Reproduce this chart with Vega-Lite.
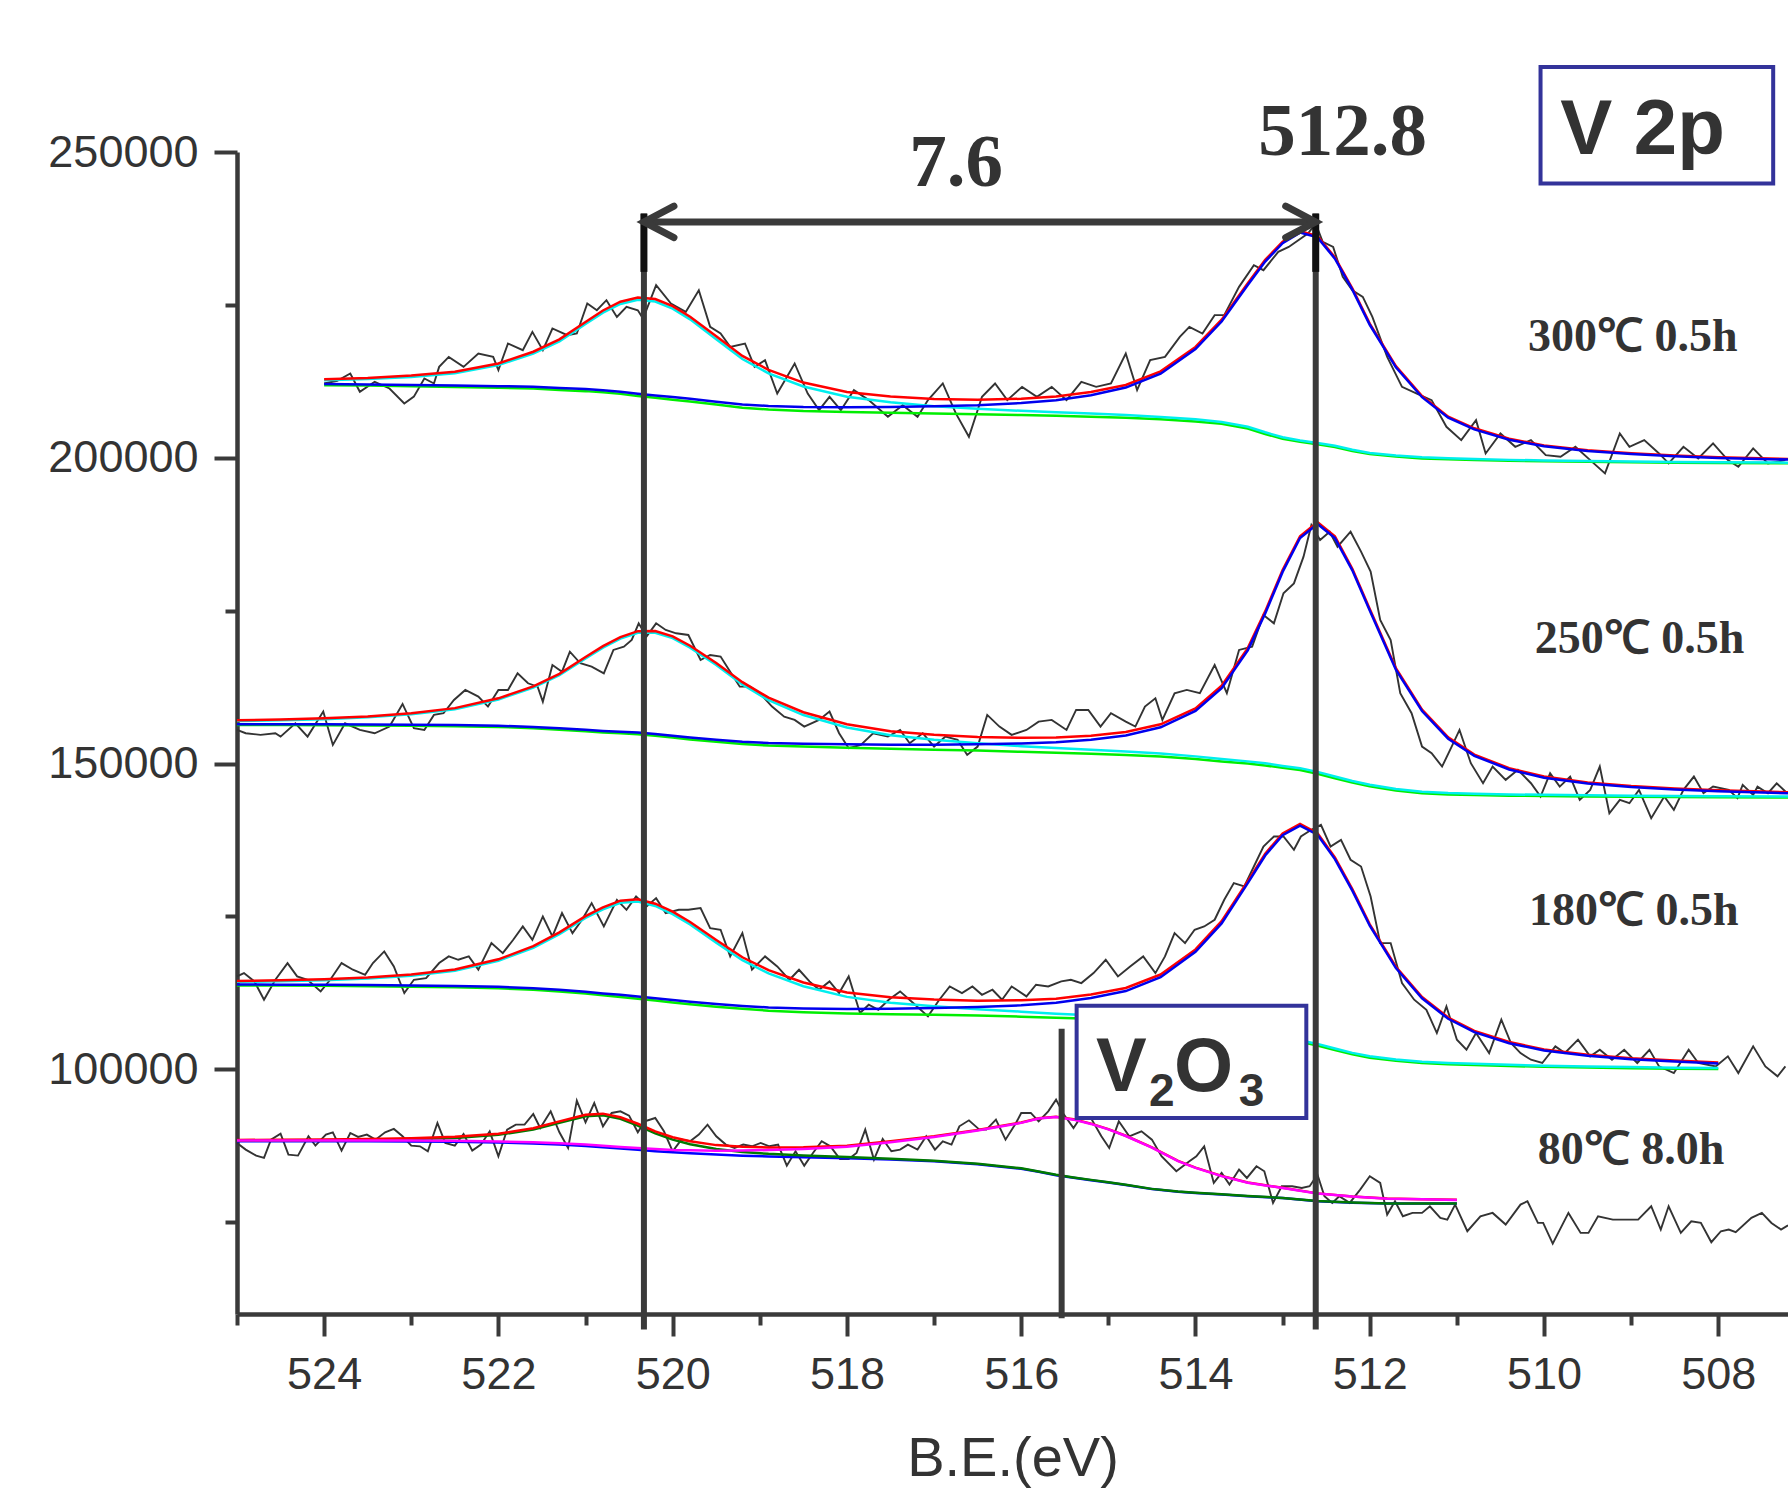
{
"$schema": "https://vega.github.io/schema/vega-lite/v6.json",
"width": 1551, "height": 1162,
"autosize": {"type": "none"},
"padding": {"left": 237, "top": 152, "right": 0, "bottom": 180},
"background": "white",
"config": {"view": {"stroke": null}, "axis": {"domainWidth": 4.5, "tickWidth": 4, "domainColor": "#3a3a3a", "tickColor": "#3a3a3a"}},
"datasets": {
"raw": [
{"s":"300","x":524.0,"y":212150},{"s":"300","x":523.85,"y":212600},{"s":"300","x":523.7,"y":213780},{"s":"300","x":523.59,"y":210790},{"s":"300","x":523.42,"y":212420},{"s":"300","x":523.25,"y":211330},{"s":"300","x":523.08,"y":208880},{"s":"300","x":522.97,"y":210000},{"s":"300","x":522.85,"y":212970},{"s":"300","x":522.74,"y":212150},{"s":"300","x":522.68,"y":214870},{"s":"300","x":522.57,"y":216500},{"s":"300","x":522.4,"y":214870},{"s":"300","x":522.23,"y":217050},{"s":"300","x":522.06,"y":216500},{"s":"300","x":522.0,"y":214330},{"s":"300","x":521.89,"y":218680},{"s":"300","x":521.72,"y":217600},{"s":"300","x":521.61,"y":220590},{"s":"300","x":521.49,"y":217600},{"s":"300","x":521.38,"y":221140},{"s":"300","x":521.21,"y":220050},{"s":"300","x":521.1,"y":220320},{"s":"300","x":520.98,"y":225220},{"s":"300","x":520.87,"y":224130},{"s":"300","x":520.76,"y":225770},{"s":"300","x":520.64,"y":223040},{"s":"300","x":520.53,"y":224680},{"s":"300","x":520.4,"y":224130},{"s":"300","x":520.34,"y":222770},{"s":"300","x":520.19,"y":228220},{"s":"300","x":520.02,"y":225220},{"s":"300","x":519.85,"y":223860},{"s":"300","x":519.7,"y":227400},{"s":"300","x":519.57,"y":221410},{"s":"300","x":519.45,"y":220320},{"s":"300","x":519.34,"y":218140},{"s":"300","x":519.17,"y":218690},{"s":"300","x":519.06,"y":214870},{"s":"300","x":518.94,"y":215960},{"s":"300","x":518.8,"y":210510},{"s":"300","x":518.6,"y":215420},{"s":"300","x":518.45,"y":210510},{"s":"300","x":518.32,"y":207790},{"s":"300","x":518.2,"y":209970},{"s":"300","x":518.07,"y":207790},{"s":"300","x":517.92,"y":211060},{"s":"300","x":517.75,"y":209430},{"s":"300","x":517.53,"y":206700},{"s":"300","x":517.36,"y":208610},{"s":"300","x":517.19,"y":206700},{"s":"300","x":517.07,"y":209430},{"s":"300","x":516.9,"y":212150},{"s":"300","x":516.75,"y":207250},{"s":"300","x":516.6,"y":203430},{"s":"300","x":516.45,"y":209970},{"s":"300","x":516.3,"y":212150},{"s":"300","x":516.16,"y":209430},{"s":"300","x":515.99,"y":211600},{"s":"300","x":515.82,"y":209970},{"s":"300","x":515.65,"y":211600},{"s":"300","x":515.48,"y":209430},{"s":"300","x":515.31,"y":212420},{"s":"300","x":515.14,"y":211600},{"s":"300","x":514.97,"y":212150},{"s":"300","x":514.8,"y":217050},{"s":"300","x":514.67,"y":211060},{"s":"300","x":514.52,"y":215960},{"s":"300","x":514.35,"y":216500},{"s":"300","x":514.18,"y":219770},{"s":"300","x":514.07,"y":221410},{"s":"300","x":513.92,"y":220320},{"s":"300","x":513.78,"y":223320},{"s":"300","x":513.67,"y":223320},{"s":"300","x":513.5,"y":227950},{"s":"300","x":513.33,"y":231480},{"s":"300","x":513.22,"y":230670},{"s":"300","x":513.05,"y":233670},{"s":"300","x":512.93,"y":234480},{"s":"300","x":512.82,"y":235570},{"s":"300","x":512.71,"y":236660},{"s":"300","x":512.62,"y":238300},{"s":"300","x":512.54,"y":235300},{"s":"300","x":512.42,"y":234480},{"s":"300","x":512.31,"y":229580},{"s":"300","x":512.2,"y":227400},{"s":"300","x":512.08,"y":226310},{"s":"300","x":511.97,"y":223040},{"s":"300","x":511.8,"y":216500},{"s":"300","x":511.63,"y":211600},{"s":"300","x":511.46,"y":210510},{"s":"300","x":511.29,"y":209430},{"s":"300","x":511.12,"y":205070},{"s":"300","x":510.95,"y":202890},{"s":"300","x":510.78,"y":206160},{"s":"300","x":510.67,"y":200710},{"s":"300","x":510.5,"y":203980},{"s":"300","x":510.33,"y":201800},{"s":"300","x":510.15,"y":202890},{"s":"300","x":509.98,"y":200440},{"s":"300","x":509.81,"y":200170},{"s":"300","x":509.64,"y":201800},{"s":"300","x":509.47,"y":199620},{"s":"300","x":509.3,"y":197440},{"s":"300","x":509.13,"y":203980},{"s":"300","x":509.02,"y":201800},{"s":"300","x":508.85,"y":202890},{"s":"300","x":508.68,"y":200710},{"s":"300","x":508.57,"y":199080},{"s":"300","x":508.4,"y":201800},{"s":"300","x":508.23,"y":199890},{"s":"300","x":508.06,"y":202350},{"s":"300","x":507.89,"y":199620},{"s":"300","x":507.77,"y":198530},{"s":"300","x":507.6,"y":201530},{"s":"300","x":507.43,"y":199080},{"s":"300","x":507.23,"y":199620},
{"s":"250","x":525.0,"y":155500},{"s":"250","x":524.9,"y":154960},{"s":"250","x":524.73,"y":154690},{"s":"250","x":524.56,"y":154960},{"s":"250","x":524.5,"y":154410},{"s":"250","x":524.33,"y":156590},{"s":"250","x":524.19,"y":154410},{"s":"250","x":524.01,"y":158500},{"s":"250","x":523.9,"y":153050},{"s":"250","x":523.76,"y":156590},{"s":"250","x":523.59,"y":155500},{"s":"250","x":523.42,"y":154960},{"s":"250","x":523.25,"y":156050},{"s":"250","x":523.1,"y":159750},{"s":"250","x":522.97,"y":155780},{"s":"250","x":522.85,"y":155500},{"s":"250","x":522.74,"y":157960},{"s":"250","x":522.63,"y":158230},{"s":"250","x":522.51,"y":160410},{"s":"250","x":522.38,"y":162040},{"s":"250","x":522.23,"y":160950},{"s":"250","x":522.12,"y":159320},{"s":"250","x":522.0,"y":162040},{"s":"250","x":521.89,"y":162040},{"s":"250","x":521.78,"y":164760},{"s":"250","x":521.66,"y":163130},{"s":"250","x":521.55,"y":162580},{"s":"250","x":521.49,"y":160130},{"s":"250","x":521.38,"y":166120},{"s":"250","x":521.27,"y":165030},{"s":"250","x":521.18,"y":168300},{"s":"250","x":521.06,"y":166400},{"s":"250","x":520.93,"y":165850},{"s":"250","x":520.79,"y":164760},{"s":"250","x":520.68,"y":168580},{"s":"250","x":520.56,"y":169120},{"s":"250","x":520.47,"y":170210},{"s":"250","x":520.39,"y":172930},{"s":"250","x":520.3,"y":170760},{"s":"250","x":520.19,"y":172930},{"s":"250","x":520.08,"y":171840},{"s":"250","x":519.96,"y":171300},{"s":"250","x":519.82,"y":171030},{"s":"250","x":519.68,"y":166940},{"s":"250","x":519.57,"y":167760},{"s":"250","x":519.45,"y":167490},{"s":"250","x":519.34,"y":165030},{"s":"250","x":519.23,"y":162580},{"s":"250","x":519.11,"y":162580},{"s":"250","x":519.0,"y":161500},{"s":"250","x":518.86,"y":159320},{"s":"250","x":518.72,"y":157680},{"s":"250","x":518.6,"y":157140},{"s":"250","x":518.49,"y":156050},{"s":"250","x":518.32,"y":157140},{"s":"250","x":518.2,"y":158500},{"s":"250","x":518.09,"y":154960},{"s":"250","x":517.98,"y":152510},{"s":"250","x":517.84,"y":153050},{"s":"250","x":517.7,"y":154960},{"s":"250","x":517.53,"y":154410},{"s":"250","x":517.39,"y":155500},{"s":"250","x":517.28,"y":153330},{"s":"250","x":517.13,"y":154960},{"s":"250","x":517.0,"y":152780},{"s":"250","x":516.87,"y":154410},{"s":"250","x":516.73,"y":153870},{"s":"250","x":516.62,"y":151420},{"s":"250","x":516.5,"y":152780},{"s":"250","x":516.39,"y":157960},{"s":"250","x":516.25,"y":156050},{"s":"250","x":516.11,"y":154690},{"s":"250","x":515.94,"y":155500},{"s":"250","x":515.8,"y":156860},{"s":"250","x":515.65,"y":157140},{"s":"250","x":515.48,"y":155500},{"s":"250","x":515.37,"y":158770},{"s":"250","x":515.23,"y":158770},{"s":"250","x":515.09,"y":156050},{"s":"250","x":514.97,"y":158230},{"s":"250","x":514.8,"y":156860},{"s":"250","x":514.69,"y":156050},{"s":"250","x":514.58,"y":159320},{"s":"250","x":514.46,"y":160680},{"s":"250","x":514.38,"y":157140},{"s":"250","x":514.24,"y":161500},{"s":"250","x":514.1,"y":162040},{"s":"250","x":513.95,"y":161500},{"s":"250","x":513.78,"y":166120},{"s":"250","x":513.64,"y":161500},{"s":"250","x":513.5,"y":168580},{"s":"250","x":513.35,"y":169120},{"s":"250","x":513.22,"y":174300},{"s":"250","x":513.1,"y":172930},{"s":"250","x":512.99,"y":177840},{"s":"250","x":512.87,"y":179470},{"s":"250","x":512.76,"y":183830},{"s":"250","x":512.67,"y":189000},{"s":"250","x":512.57,"y":186550},{"s":"250","x":512.46,"y":187910},{"s":"250","x":512.37,"y":185460},{"s":"250","x":512.22,"y":187910},{"s":"250","x":512.1,"y":184650},{"s":"250","x":511.99,"y":181380},{"s":"250","x":511.88,"y":173480},{"s":"250","x":511.76,"y":170210},{"s":"250","x":511.65,"y":161500},{"s":"250","x":511.52,"y":158230},{"s":"250","x":511.4,"y":152780},{"s":"250","x":511.29,"y":151690},{"s":"250","x":511.17,"y":149510},{"s":"250","x":511.06,"y":152780},{"s":"250","x":510.97,"y":155500},{"s":"250","x":510.84,"y":150060},{"s":"250","x":510.7,"y":146790},{"s":"250","x":510.59,"y":149510},{"s":"250","x":510.44,"y":147340},{"s":"250","x":510.3,"y":148970},{"s":"250","x":510.15,"y":146790},{"s":"250","x":510.04,"y":144610},{"s":"250","x":509.93,"y":148420},{"s":"250","x":509.82,"y":146240},{"s":"250","x":509.7,"y":147880},{"s":"250","x":509.59,"y":144070},{"s":"250","x":509.47,"y":145700},{"s":"250","x":509.36,"y":149510},{"s":"250","x":509.25,"y":141880},{"s":"250","x":509.13,"y":144070},{"s":"250","x":509.02,"y":143520},{"s":"250","x":508.91,"y":145700},{"s":"250","x":508.77,"y":141070},{"s":"250","x":508.62,"y":144610},{"s":"250","x":508.51,"y":142430},{"s":"250","x":508.4,"y":145700},{"s":"250","x":508.28,"y":147880},{"s":"250","x":508.17,"y":145150},{"s":"250","x":508.06,"y":146240},{"s":"250","x":507.88,"y":145700},{"s":"250","x":507.78,"y":144340},{"s":"250","x":507.72,"y":146510},{"s":"250","x":507.6,"y":144890},{"s":"250","x":507.55,"y":146240},{"s":"250","x":507.43,"y":145150},{"s":"250","x":507.33,"y":146780},{"s":"250","x":507.23,"y":145430},
{"s":"180","x":525.0,"y":115200},{"s":"180","x":524.92,"y":115740},{"s":"180","x":524.8,"y":114380},{"s":"180","x":524.69,"y":111390},{"s":"180","x":524.56,"y":114650},{"s":"180","x":524.42,"y":117380},{"s":"180","x":524.31,"y":115200},{"s":"180","x":524.19,"y":114650},{"s":"180","x":524.04,"y":112750},{"s":"180","x":523.93,"y":114650},{"s":"180","x":523.8,"y":117380},{"s":"180","x":523.67,"y":116290},{"s":"180","x":523.53,"y":115470},{"s":"180","x":523.44,"y":117380},{"s":"180","x":523.31,"y":119280},{"s":"180","x":523.2,"y":116830},{"s":"180","x":523.08,"y":112480},{"s":"180","x":522.97,"y":114650},{"s":"180","x":522.83,"y":114920},{"s":"180","x":522.68,"y":117380},{"s":"180","x":522.57,"y":118470},{"s":"180","x":522.46,"y":117920},{"s":"180","x":522.34,"y":118470},{"s":"180","x":522.23,"y":116290},{"s":"180","x":522.08,"y":120650},{"s":"180","x":521.95,"y":119010},{"s":"180","x":521.83,"y":121190},{"s":"180","x":521.72,"y":123370},{"s":"180","x":521.61,"y":121190},{"s":"180","x":521.49,"y":125000},{"s":"180","x":521.38,"y":121730},{"s":"180","x":521.27,"y":125550},{"s":"180","x":521.15,"y":122280},{"s":"180","x":521.04,"y":124460},{"s":"180","x":520.93,"y":127180},{"s":"180","x":520.79,"y":123370},{"s":"180","x":520.64,"y":127730},{"s":"180","x":520.53,"y":126090},{"s":"180","x":520.42,"y":128270},{"s":"180","x":520.3,"y":126640},{"s":"180","x":520.19,"y":128000},{"s":"180","x":520.08,"y":125550},{"s":"180","x":519.93,"y":126090},{"s":"180","x":519.82,"y":126090},{"s":"180","x":519.68,"y":126360},{"s":"180","x":519.57,"y":123100},{"s":"180","x":519.45,"y":122830},{"s":"180","x":519.34,"y":118470},{"s":"180","x":519.2,"y":122280},{"s":"180","x":519.09,"y":116290},{"s":"180","x":518.94,"y":118470},{"s":"180","x":518.8,"y":116830},{"s":"180","x":518.66,"y":114650},{"s":"180","x":518.55,"y":116290},{"s":"180","x":518.43,"y":114380},{"s":"180","x":518.32,"y":113020},{"s":"180","x":518.2,"y":114380},{"s":"180","x":518.09,"y":112480},{"s":"180","x":517.98,"y":115200},{"s":"180","x":517.85,"y":109210},{"s":"180","x":517.75,"y":110570},{"s":"180","x":517.64,"y":109750},{"s":"180","x":517.52,"y":111390},{"s":"180","x":517.39,"y":112750},{"s":"180","x":517.24,"y":110840},{"s":"180","x":517.07,"y":108660},{"s":"180","x":516.94,"y":111390},{"s":"180","x":516.82,"y":113560},{"s":"180","x":516.68,"y":112480},{"s":"180","x":516.56,"y":113560},{"s":"180","x":516.45,"y":112200},{"s":"180","x":516.33,"y":113020},{"s":"180","x":516.22,"y":111390},{"s":"180","x":516.11,"y":113560},{"s":"180","x":515.94,"y":111930},{"s":"180","x":515.83,"y":113840},{"s":"180","x":515.69,"y":113560},{"s":"180","x":515.54,"y":114380},{"s":"180","x":515.43,"y":114650},{"s":"180","x":515.31,"y":114110},{"s":"180","x":515.17,"y":115740},{"s":"180","x":515.03,"y":117920},{"s":"180","x":514.89,"y":115200},{"s":"180","x":514.75,"y":116830},{"s":"180","x":514.6,"y":118470},{"s":"180","x":514.46,"y":115740},{"s":"180","x":514.35,"y":118470},{"s":"180","x":514.24,"y":122280},{"s":"180","x":514.12,"y":120650},{"s":"180","x":514.01,"y":122830},{"s":"180","x":513.9,"y":123370},{"s":"180","x":513.78,"y":124460},{"s":"180","x":513.67,"y":127730},{"s":"180","x":513.56,"y":130450},{"s":"180","x":513.44,"y":129910},{"s":"180","x":513.33,"y":133170},{"s":"180","x":513.22,"y":136440},{"s":"180","x":513.1,"y":138080},{"s":"180","x":512.99,"y":138080},{"s":"180","x":512.87,"y":135900},{"s":"180","x":512.79,"y":138080},{"s":"180","x":512.67,"y":139170},{"s":"180","x":512.56,"y":139980},{"s":"180","x":512.45,"y":136440},{"s":"180","x":512.33,"y":137530},{"s":"180","x":512.22,"y":134270},{"s":"180","x":512.1,"y":133170},{"s":"180","x":511.99,"y":128270},{"s":"180","x":511.88,"y":120650},{"s":"180","x":511.76,"y":120650},{"s":"180","x":511.63,"y":114110},{"s":"180","x":511.49,"y":111390},{"s":"180","x":511.35,"y":109750},{"s":"180","x":511.23,"y":105940},{"s":"180","x":511.12,"y":110290},{"s":"180","x":511.0,"y":104850},{"s":"180","x":510.89,"y":103210},{"s":"180","x":510.78,"y":105940},{"s":"180","x":510.63,"y":102670},{"s":"180","x":510.49,"y":108120},{"s":"180","x":510.38,"y":104310},{"s":"180","x":510.27,"y":102670},{"s":"180","x":510.15,"y":101580},{"s":"180","x":510.02,"y":101040},{"s":"180","x":509.87,"y":103760},{"s":"180","x":509.76,"y":102670},{"s":"180","x":509.61,"y":104850},{"s":"180","x":509.47,"y":102130},{"s":"180","x":509.36,"y":103210},{"s":"180","x":509.22,"y":101580},{"s":"180","x":509.08,"y":103210},{"s":"180","x":508.93,"y":101040},{"s":"180","x":508.79,"y":103210},{"s":"180","x":508.68,"y":100490},{"s":"180","x":508.51,"y":99400},{"s":"180","x":508.34,"y":103210},{"s":"180","x":508.23,"y":101040},{"s":"180","x":508.03,"y":100490},{"s":"180","x":507.89,"y":102130},{"s":"180","x":507.77,"y":99400},{"s":"180","x":507.6,"y":103760},{"s":"180","x":507.46,"y":100490},{"s":"180","x":507.32,"y":98860},{"s":"180","x":507.23,"y":100490},
{"s":"80","x":525.0,"y":87970},{"s":"80","x":524.9,"y":86880},{"s":"80","x":524.78,"y":85900},{"s":"80","x":524.69,"y":85515},{"s":"80","x":524.61,"y":88510},{"s":"80","x":524.5,"y":89490},{"s":"80","x":524.41,"y":86060},{"s":"80","x":524.3,"y":85900},{"s":"80","x":524.18,"y":89056},{"s":"80","x":524.1,"y":87530},{"s":"80","x":523.98,"y":89330},{"s":"80","x":523.9,"y":89710},{"s":"80","x":523.8,"y":86710},{"s":"80","x":523.7,"y":89600},{"s":"80","x":523.61,"y":88950},{"s":"80","x":523.51,"y":89330},{"s":"80","x":523.41,"y":88510},{"s":"80","x":523.3,"y":89710},{"s":"80","x":523.2,"y":90260},{"s":"80","x":523.1,"y":89056},{"s":"80","x":523.0,"y":87530},{"s":"80","x":522.9,"y":87420},{"s":"80","x":522.81,"y":86605},{"s":"80","x":522.7,"y":91235},{"s":"80","x":522.61,"y":87970},{"s":"80","x":522.5,"y":87530},{"s":"80","x":522.4,"y":89440},{"s":"80","x":522.3,"y":86710},{"s":"80","x":522.2,"y":87700},{"s":"80","x":522.1,"y":89870},{"s":"80","x":522.0,"y":85790},{"s":"80","x":521.9,"y":90146},{"s":"80","x":521.8,"y":90960},{"s":"80","x":521.7,"y":90960},{"s":"80","x":521.6,"y":92706},{"s":"80","x":521.52,"y":90420},{"s":"80","x":521.4,"y":93140},{"s":"80","x":521.3,"y":89710},{"s":"80","x":521.2,"y":87150},{"s":"80","x":521.1,"y":94885},{"s":"80","x":521.0,"y":91345},{"s":"80","x":520.9,"y":94500},{"s":"80","x":520.8,"y":90690},{"s":"80","x":520.7,"y":92870},{"s":"80","x":520.6,"y":93140},{"s":"80","x":520.5,"y":92430},{"s":"80","x":520.4,"y":89710},{"s":"80","x":520.32,"y":91510},{"s":"80","x":520.2,"y":92050},{"s":"80","x":520.1,"y":89870},{"s":"80","x":520.0,"y":86605},{"s":"80","x":519.9,"y":88510},{"s":"80","x":519.8,"y":88240},{"s":"80","x":519.7,"y":89330},{"s":"80","x":519.6,"y":90960},{"s":"80","x":519.5,"y":89056},{"s":"80","x":519.39,"y":87700},{"s":"80","x":519.29,"y":87150},{"s":"80","x":519.19,"y":87700},{"s":"80","x":519.09,"y":87420},{"s":"80","x":518.99,"y":87970},{"s":"80","x":518.89,"y":87420},{"s":"80","x":518.79,"y":87700},{"s":"80","x":518.69,"y":84260},{"s":"80","x":518.59,"y":86605},{"s":"80","x":518.49,"y":84260},{"s":"80","x":518.39,"y":86330},{"s":"80","x":518.29,"y":88240},{"s":"80","x":518.19,"y":87420},{"s":"80","x":518.08,"y":85350},{"s":"80","x":517.98,"y":85350},{"s":"80","x":517.89,"y":86330},{"s":"80","x":517.79,"y":90146},{"s":"80","x":517.69,"y":85240},{"s":"80","x":517.59,"y":88620},{"s":"80","x":517.49,"y":86605},{"s":"80","x":517.39,"y":86880},{"s":"80","x":517.3,"y":87700},{"s":"80","x":517.19,"y":86880},{"s":"80","x":517.09,"y":89056},{"s":"80","x":516.99,"y":86880},{"s":"80","x":516.9,"y":88240},{"s":"80","x":516.8,"y":87700},{"s":"80","x":516.71,"y":90690},{"s":"80","x":516.6,"y":91670},{"s":"80","x":516.48,"y":90146},{"s":"80","x":516.4,"y":90146},{"s":"80","x":516.29,"y":91780},{"s":"80","x":516.18,"y":88510},{"s":"80","x":516.06,"y":91235},{"s":"80","x":516.0,"y":92870},{"s":"80","x":515.89,"y":92870},{"s":"80","x":515.8,"y":91505},{"s":"80","x":515.69,"y":93140},{"s":"80","x":515.6,"y":95050},{"s":"80","x":515.51,"y":92600},{"s":"80","x":515.4,"y":90418},{"s":"80","x":515.31,"y":92324},{"s":"80","x":515.2,"y":92050},{"s":"80","x":515.08,"y":89056},{"s":"80","x":514.99,"y":87150},{"s":"80","x":514.88,"y":91505},{"s":"80","x":514.76,"y":89056},{"s":"80","x":514.62,"y":89870},{"s":"80","x":514.5,"y":88510},{"s":"80","x":514.39,"y":85790},{"s":"80","x":514.22,"y":83336},{"s":"80","x":514.07,"y":84970},{"s":"80","x":513.99,"y":85790},{"s":"80","x":513.9,"y":87422},{"s":"80","x":513.79,"y":81430},{"s":"80","x":513.7,"y":83064},{"s":"80","x":513.61,"y":81158},{"s":"80","x":513.5,"y":83610},{"s":"80","x":513.41,"y":82245},{"s":"80","x":513.3,"y":84154},{"s":"80","x":513.21,"y":83336},{"s":"80","x":513.11,"y":78163},{"s":"80","x":513.01,"y":80885},{"s":"80","x":512.89,"y":80885},{"s":"80","x":512.78,"y":80613},{"s":"80","x":512.69,"y":80885},{"s":"80","x":512.6,"y":82790},{"s":"80","x":512.52,"y":79250},{"s":"80","x":512.43,"y":78163},{"s":"80","x":512.35,"y":79250},{"s":"80","x":512.23,"y":78163},{"s":"80","x":512.11,"y":80340},{"s":"80","x":512.0,"y":82518},{"s":"80","x":511.88,"y":81430},{"s":"80","x":511.8,"y":76256},{"s":"80","x":511.71,"y":78435},{"s":"80","x":511.62,"y":75983},{"s":"80","x":511.51,"y":76528},{"s":"80","x":511.4,"y":76528},{"s":"80","x":511.31,"y":77617},{"s":"80","x":511.19,"y":75710},{"s":"80","x":511.11,"y":75438},{"s":"80","x":511.02,"y":77890},{"s":"80","x":510.88,"y":73532},{"s":"80","x":510.73,"y":75983},{"s":"80","x":510.59,"y":76528},{"s":"80","x":510.44,"y":74621},{"s":"80","x":510.27,"y":77890},{"s":"80","x":510.19,"y":78434},{"s":"80","x":510.07,"y":74894},{"s":"80","x":510.01,"y":74894},{"s":"80","x":509.9,"y":71517},{"s":"80","x":509.72,"y":76528},{"s":"80","x":509.58,"y":73260},{"s":"80","x":509.49,"y":73260},{"s":"80","x":509.38,"y":75983},{"s":"80","x":509.21,"y":75438},{"s":"80","x":508.92,"y":75438},{"s":"80","x":508.77,"y":77617},{"s":"80","x":508.66,"y":73805},{"s":"80","x":508.57,"y":77617},{"s":"80","x":508.43,"y":73260},{"s":"80","x":508.31,"y":75166},{"s":"80","x":508.2,"y":74894},{"s":"80","x":508.08,"y":71735},{"s":"80","x":507.97,"y":73532},{"s":"80","x":507.88,"y":73805},{"s":"80","x":507.8,"y":73369},{"s":"80","x":507.62,"y":75710},{"s":"80","x":507.5,"y":76528},{"s":"80","x":507.39,"y":74894},{"s":"80","x":507.28,"y":73805},{"s":"80","x":507.2,"y":74500}
],
"fit": [
{"s":"300","c":"bg","x":524,"y":211880},{"s":"300","c":"p1","x":524,"y":212672},{"s":"300","c":"env","x":524,"y":212845},{"s":"300","c":"p2","x":524,"y":212053},
{"s":"300","c":"bg","x":523.5,"y":211800},{"s":"300","c":"p1","x":523.5,"y":212865},{"s":"300","c":"p2","x":523.5,"y":211995},{"s":"300","c":"env","x":523.5,"y":213060},
{"s":"300","c":"bg","x":523,"y":211700},{"s":"300","c":"p1","x":523,"y":213226},{"s":"300","c":"p2","x":523,"y":211914},{"s":"300","c":"env","x":523,"y":213440},
{"s":"300","c":"bg","x":522.5,"y":211580},{"s":"300","c":"p1","x":522.5,"y":213838},{"s":"300","c":"p2","x":522.5,"y":211811},{"s":"300","c":"env","x":522.5,"y":214069},
{"s":"300","c":"bg","x":522,"y":211450},{"s":"300","c":"p1","x":522,"y":215171},{"s":"300","c":"p2","x":522,"y":211709},{"s":"300","c":"env","x":522,"y":215430},
{"s":"300","c":"bg","x":521.6,"y":211330},{"s":"300","c":"p1","x":521.6,"y":217054},{"s":"300","c":"p2","x":521.6,"y":211616},{"s":"300","c":"env","x":521.6,"y":217340},
{"s":"300","c":"bg","x":521.3,"y":211100},{"s":"300","c":"p1","x":521.3,"y":219050},{"s":"300","c":"p2","x":521.3,"y":211407},{"s":"300","c":"env","x":521.3,"y":219357},
{"s":"300","c":"bg","x":521,"y":210900},{"s":"300","c":"p1","x":521,"y":221871},{"s":"300","c":"p2","x":521,"y":211231},{"s":"300","c":"env","x":521,"y":222202},
{"s":"300","c":"bg","x":520.8,"y":210700},{"s":"300","c":"p1","x":520.8,"y":223738},{"s":"300","c":"p2","x":520.8,"y":211045},{"s":"300","c":"env","x":520.8,"y":224083},
{"s":"300","c":"bg","x":520.6,"y":210450},{"s":"300","c":"p1","x":520.6,"y":225158},{"s":"300","c":"p2","x":520.6,"y":210816},{"s":"300","c":"env","x":520.6,"y":225524},
{"s":"300","c":"bg","x":520.4,"y":210100},{"s":"300","c":"p1","x":520.4,"y":225841},{"s":"300","c":"p2","x":520.4,"y":210476},{"s":"300","c":"env","x":520.4,"y":226217},
{"s":"300","c":"bg","x":520.2,"y":209800},{"s":"300","c":"p1","x":520.2,"y":225557},{"s":"300","c":"p2","x":520.2,"y":210193},{"s":"300","c":"env","x":520.2,"y":225950},
{"s":"300","c":"bg","x":520,"y":209500},{"s":"300","c":"p1","x":520,"y":224382},{"s":"300","c":"p2","x":520,"y":209921},{"s":"300","c":"env","x":520,"y":224803},
{"s":"300","c":"bg","x":519.8,"y":209200},{"s":"300","c":"p1","x":519.8,"y":222636},{"s":"300","c":"p2","x":519.8,"y":209635},{"s":"300","c":"env","x":519.8,"y":223071},
{"s":"300","c":"bg","x":519.5,"y":208700},{"s":"300","c":"p1","x":519.5,"y":219400},{"s":"300","c":"p2","x":519.5,"y":209169},{"s":"300","c":"env","x":519.5,"y":219869},
{"s":"300","c":"bg","x":519.2,"y":208200},{"s":"300","c":"p1","x":519.2,"y":216150},{"s":"300","c":"p2","x":519.2,"y":208714},{"s":"300","c":"env","x":519.2,"y":216664},
{"s":"300","c":"bg","x":518.9,"y":207900},{"s":"300","c":"p1","x":518.9,"y":213815},{"s":"300","c":"p2","x":518.9,"y":208469},{"s":"300","c":"env","x":518.9,"y":214384},
{"s":"300","c":"bg","x":518.5,"y":207650},{"s":"300","c":"p1","x":518.5,"y":211657},{"s":"300","c":"p2","x":518.5,"y":208295},{"s":"300","c":"env","x":518.5,"y":212302},
{"s":"300","c":"bg","x":518,"y":207500},{"s":"300","c":"p1","x":518,"y":209996},{"s":"300","c":"p2","x":518,"y":208276},{"s":"300","c":"env","x":518,"y":210772},
{"s":"300","c":"bg","x":517.5,"y":207380},{"s":"300","c":"p1","x":517.5,"y":209081},{"s":"300","c":"p2","x":517.5,"y":208305},{"s":"300","c":"env","x":517.5,"y":210006},
{"s":"300","c":"bg","x":517,"y":207250},{"s":"300","c":"p1","x":517,"y":208443},{"s":"300","c":"p2","x":517,"y":208440},{"s":"300","c":"env","x":517,"y":209633},
{"s":"300","c":"bg","x":516.5,"y":207120},{"s":"300","c":"p1","x":516.5,"y":208026},{"s":"300","c":"p2","x":516.5,"y":208586},{"s":"300","c":"env","x":516.5,"y":209492},
{"s":"300","c":"bg","x":516,"y":206980},{"s":"300","c":"p1","x":516,"y":207680},{"s":"300","c":"p2","x":516,"y":208947},{"s":"300","c":"env","x":516,"y":209647},
{"s":"300","c":"bg","x":515.6,"y":206860},{"s":"300","c":"p1","x":515.6,"y":207464},{"s":"300","c":"p2","x":515.6,"y":209413},{"s":"300","c":"env","x":515.6,"y":210017},
{"s":"300","c":"bg","x":515.2,"y":206720},{"s":"300","c":"p1","x":515.2,"y":207229},{"s":"300","c":"p2","x":515.2,"y":210239},{"s":"300","c":"env","x":515.2,"y":210748},
{"s":"300","c":"bg","x":514.8,"y":206550},{"s":"300","c":"p1","x":514.8,"y":206979},{"s":"300","c":"p2","x":514.8,"y":211484},{"s":"300","c":"env","x":514.8,"y":211913},
{"s":"300","c":"bg","x":514.4,"y":206300},{"s":"300","c":"p1","x":514.4,"y":206682},{"s":"300","c":"p2","x":514.4,"y":213752},{"s":"300","c":"env","x":514.4,"y":214134},
{"s":"300","c":"bg","x":514,"y":205950},{"s":"300","c":"p1","x":514,"y":206284},{"s":"300","c":"p2","x":514,"y":217784},{"s":"300","c":"env","x":514,"y":218118},
{"s":"300","c":"bg","x":513.7,"y":205550},{"s":"300","c":"p1","x":513.7,"y":205852},{"s":"300","c":"p2","x":513.7,"y":222283},{"s":"300","c":"env","x":513.7,"y":222585},
{"s":"300","c":"bg","x":513.4,"y":204800},{"s":"300","c":"p1","x":513.4,"y":205081},{"s":"300","c":"p2","x":513.4,"y":228260},{"s":"300","c":"env","x":513.4,"y":228541},
{"s":"300","c":"bg","x":513.2,"y":203900},{"s":"300","c":"p1","x":513.2,"y":204166},{"s":"300","c":"p2","x":513.2,"y":232087},{"s":"300","c":"env","x":513.2,"y":232353},
{"s":"300","c":"bg","x":513,"y":203100},{"s":"300","c":"p1","x":513,"y":203354},{"s":"300","c":"p2","x":513,"y":235082},{"s":"300","c":"env","x":513,"y":235336},
{"s":"300","c":"bg","x":512.8,"y":202600},{"s":"300","c":"p1","x":512.8,"y":202837},{"s":"300","c":"p2","x":512.8,"y":236824},{"s":"300","c":"env","x":512.8,"y":237061},
{"s":"300","c":"bg","x":512.6,"y":202200},{"s":"300","c":"p1","x":512.6,"y":202423},{"s":"300","c":"p2","x":512.6,"y":236045},{"s":"300","c":"env","x":512.6,"y":236268},
{"s":"300","c":"bg","x":512.4,"y":201750},{"s":"300","c":"p1","x":512.4,"y":201965},{"s":"300","c":"p2","x":512.4,"y":232559},{"s":"300","c":"env","x":512.4,"y":232774},
{"s":"300","c":"bg","x":512.2,"y":201100},{"s":"300","c":"p1","x":512.2,"y":201307},{"s":"300","c":"p2","x":512.2,"y":227493},{"s":"300","c":"env","x":512.2,"y":227700},
{"s":"300","c":"bg","x":512,"y":200600},{"s":"300","c":"p1","x":512,"y":200799},{"s":"300","c":"p2","x":512,"y":221749},{"s":"300","c":"env","x":512,"y":221948},
{"s":"300","c":"bg","x":511.7,"y":200200},{"s":"300","c":"p1","x":511.7,"y":200391},{"s":"300","c":"p2","x":511.7,"y":214794},{"s":"300","c":"env","x":511.7,"y":214985},
{"s":"300","c":"bg","x":511.4,"y":199900},{"s":"300","c":"p1","x":511.4,"y":200083},{"s":"300","c":"p2","x":511.4,"y":209905},{"s":"300","c":"env","x":511.4,"y":210088},
{"s":"300","c":"bg","x":511.1,"y":199750},{"s":"300","c":"p1","x":511.1,"y":199925},{"s":"300","c":"p2","x":511.1,"y":206547},{"s":"300","c":"env","x":511.1,"y":206722},
{"s":"300","c":"bg","x":510.8,"y":199650},{"s":"300","c":"p1","x":510.8,"y":199817},{"s":"300","c":"p2","x":510.8,"y":204653},{"s":"300","c":"env","x":510.8,"y":204820},
{"s":"300","c":"bg","x":510.4,"y":199500},{"s":"300","c":"p1","x":510.4,"y":199659},{"s":"300","c":"p2","x":510.4,"y":202950},{"s":"300","c":"env","x":510.4,"y":203109},
{"s":"300","c":"bg","x":510,"y":199420},{"s":"300","c":"p1","x":510,"y":199571},{"s":"300","c":"p2","x":510,"y":201870},{"s":"300","c":"env","x":510,"y":202021},
{"s":"300","c":"bg","x":509.5,"y":199340},{"s":"300","c":"p1","x":509.5,"y":199483},{"s":"300","c":"p2","x":509.5,"y":201100},{"s":"300","c":"env","x":509.5,"y":201243},
{"s":"300","c":"bg","x":509,"y":199260},{"s":"300","c":"p1","x":509,"y":199395},{"s":"300","c":"p2","x":509,"y":200606},{"s":"300","c":"env","x":509,"y":200741},
{"s":"300","c":"bg","x":508.5,"y":199200},{"s":"300","c":"p1","x":508.5,"y":199327},{"s":"300","c":"p2","x":508.5,"y":200235},{"s":"300","c":"env","x":508.5,"y":200362},
{"s":"300","c":"bg","x":508,"y":199150},{"s":"300","c":"p1","x":508,"y":199274},{"s":"300","c":"p2","x":508,"y":199978},{"s":"300","c":"env","x":508,"y":200102},
{"s":"300","c":"bg","x":507.2,"y":199090},{"s":"300","c":"p1","x":507.2,"y":199206},{"s":"300","c":"p2","x":507.2,"y":199701},{"s":"300","c":"env","x":507.2,"y":199817},
{"s":"250","c":"bg","x":525,"y":156320},{"s":"250","c":"p1","x":525,"y":156949},{"s":"250","c":"env","x":525,"y":157072},{"s":"250","c":"p2","x":525,"y":156443},
{"s":"250","c":"bg","x":524.5,"y":156300},{"s":"250","c":"p1","x":524.5,"y":157071},{"s":"250","c":"p2","x":524.5,"y":156435},{"s":"250","c":"env","x":524.5,"y":157206},
{"s":"250","c":"bg","x":524,"y":156270},{"s":"250","c":"p1","x":524,"y":157260},{"s":"250","c":"p2","x":524,"y":156413},{"s":"250","c":"env","x":524,"y":157403},
{"s":"250","c":"bg","x":523.5,"y":156230},{"s":"250","c":"p1","x":523.5,"y":157557},{"s":"250","c":"p2","x":523.5,"y":156381},{"s":"250","c":"env","x":523.5,"y":157708},
{"s":"250","c":"bg","x":523,"y":156190},{"s":"250","c":"p1","x":523,"y":158049},{"s":"250","c":"p2","x":523,"y":156353},{"s":"250","c":"env","x":523,"y":158212},
{"s":"250","c":"bg","x":522.5,"y":156120},{"s":"250","c":"p1","x":522.5,"y":158892},{"s":"250","c":"p2","x":522.5,"y":156296},{"s":"250","c":"env","x":522.5,"y":159068},
{"s":"250","c":"bg","x":522,"y":156000},{"s":"250","c":"p1","x":522,"y":160479},{"s":"250","c":"p2","x":522,"y":156188},{"s":"250","c":"env","x":522,"y":160667},
{"s":"250","c":"bg","x":521.6,"y":155780},{"s":"250","c":"p1","x":521.6,"y":162422},{"s":"250","c":"p2","x":521.6,"y":155984},{"s":"250","c":"env","x":521.6,"y":162626},
{"s":"250","c":"bg","x":521.3,"y":155550},{"s":"250","c":"p1","x":521.3,"y":164456},{"s":"250","c":"p2","x":521.3,"y":155767},{"s":"250","c":"env","x":521.3,"y":164673},
{"s":"250","c":"bg","x":521,"y":155300},{"s":"250","c":"p1","x":521,"y":167181},{"s":"250","c":"p2","x":521,"y":155537},{"s":"250","c":"env","x":521,"y":167418},
{"s":"250","c":"bg","x":520.8,"y":155100},{"s":"250","c":"p1","x":520.8,"y":168958},{"s":"250","c":"p2","x":520.8,"y":155345},{"s":"250","c":"env","x":520.8,"y":169203},
{"s":"250","c":"bg","x":520.6,"y":154950},{"s":"250","c":"p1","x":520.6,"y":170430},{"s":"250","c":"p2","x":520.6,"y":155207},{"s":"250","c":"env","x":520.6,"y":170687},
{"s":"250","c":"bg","x":520.4,"y":154800},{"s":"250","c":"p1","x":520.4,"y":171379},{"s":"250","c":"p2","x":520.4,"y":155070},{"s":"250","c":"env","x":520.4,"y":171649},
{"s":"250","c":"bg","x":520.2,"y":154550},{"s":"250","c":"p1","x":520.2,"y":171382},{"s":"250","c":"p2","x":520.2,"y":154828},{"s":"250","c":"env","x":520.2,"y":171660},
{"s":"250","c":"bg","x":520,"y":154250},{"s":"250","c":"p1","x":520,"y":170508},{"s":"250","c":"p2","x":520,"y":154540},{"s":"250","c":"env","x":520,"y":170798},
{"s":"250","c":"bg","x":519.8,"y":153950},{"s":"250","c":"p1","x":519.8,"y":168957},{"s":"250","c":"p2","x":519.8,"y":154265},{"s":"250","c":"env","x":519.8,"y":169272},
{"s":"250","c":"bg","x":519.5,"y":153550},{"s":"250","c":"p1","x":519.5,"y":166107},{"s":"250","c":"p2","x":519.5,"y":153897},{"s":"250","c":"env","x":519.5,"y":166454},
{"s":"250","c":"bg","x":519.2,"y":153200},{"s":"250","c":"p1","x":519.2,"y":162934},{"s":"250","c":"p2","x":519.2,"y":153580},{"s":"250","c":"env","x":519.2,"y":163314},
{"s":"250","c":"bg","x":518.9,"y":152950},{"s":"250","c":"p1","x":518.9,"y":160369},{"s":"250","c":"p2","x":518.9,"y":153367},{"s":"250","c":"env","x":518.9,"y":160786},
{"s":"250","c":"bg","x":518.5,"y":152780},{"s":"250","c":"p1","x":518.5,"y":157935},{"s":"250","c":"p2","x":518.5,"y":153242},{"s":"250","c":"env","x":518.5,"y":158397},
{"s":"250","c":"bg","x":518,"y":152600},{"s":"250","c":"p1","x":518,"y":155896},{"s":"250","c":"p2","x":518,"y":153144},{"s":"250","c":"env","x":518,"y":156440},
{"s":"250","c":"bg","x":517.5,"y":152420},{"s":"250","c":"p1","x":517.5,"y":154634},{"s":"250","c":"p2","x":517.5,"y":153082},{"s":"250","c":"env","x":517.5,"y":155296},
{"s":"250","c":"bg","x":517,"y":152280},{"s":"250","c":"p1","x":517,"y":153891},{"s":"250","c":"p2","x":517,"y":153093},{"s":"250","c":"env","x":517,"y":154704},
{"s":"250","c":"bg","x":516.5,"y":152125},{"s":"250","c":"p1","x":516.5,"y":153308},{"s":"250","c":"p2","x":516.5,"y":153159},{"s":"250","c":"env","x":516.5,"y":154342},
{"s":"250","c":"bg","x":516,"y":151930},{"s":"250","c":"p1","x":516,"y":152848},{"s":"250","c":"p2","x":516,"y":153303},{"s":"250","c":"env","x":516,"y":154221},
{"s":"250","c":"bg","x":515.6,"y":151780},{"s":"250","c":"p1","x":515.6,"y":152546},{"s":"250","c":"p2","x":515.6,"y":153480},{"s":"250","c":"env","x":515.6,"y":154246},
{"s":"250","c":"bg","x":515.2,"y":151620},{"s":"250","c":"p1","x":515.2,"y":152277},{"s":"250","c":"p2","x":515.2,"y":153884},{"s":"250","c":"env","x":515.2,"y":154541},
{"s":"250","c":"bg","x":514.8,"y":151420},{"s":"250","c":"p1","x":514.8,"y":151993},{"s":"250","c":"p2","x":514.8,"y":154600},{"s":"250","c":"env","x":514.8,"y":155173},
{"s":"250","c":"bg","x":514.4,"y":151150},{"s":"250","c":"p1","x":514.4,"y":151638},{"s":"250","c":"p2","x":514.4,"y":155932},{"s":"250","c":"env","x":514.4,"y":156420},
{"s":"250","c":"bg","x":514,"y":150750},{"s":"250","c":"p1","x":514,"y":151178},{"s":"250","c":"p2","x":514,"y":158597},{"s":"250","c":"env","x":514,"y":159025},
{"s":"250","c":"bg","x":513.7,"y":150350},{"s":"250","c":"p1","x":513.7,"y":150744},{"s":"250","c":"p2","x":513.7,"y":162325},{"s":"250","c":"env","x":513.7,"y":162719},
{"s":"250","c":"bg","x":513.4,"y":150000},{"s":"250","c":"p1","x":513.4,"y":150360},{"s":"250","c":"p2","x":513.4,"y":168514},{"s":"250","c":"env","x":513.4,"y":168874},
{"s":"250","c":"bg","x":513.2,"y":149700},{"s":"250","c":"p1","x":513.2,"y":150038},{"s":"250","c":"p2","x":513.2,"y":174549},{"s":"250","c":"env","x":513.2,"y":174887},
{"s":"250","c":"bg","x":513,"y":149300},{"s":"250","c":"p1","x":513,"y":149618},{"s":"250","c":"p2","x":513,"y":181342},{"s":"250","c":"env","x":513,"y":181660},
{"s":"250","c":"bg","x":512.8,"y":148950},{"s":"250","c":"p1","x":512.8,"y":149254},{"s":"250","c":"p2","x":512.8,"y":186877},{"s":"250","c":"env","x":512.8,"y":187181},
{"s":"250","c":"bg","x":512.6,"y":148350},{"s":"250","c":"p1","x":512.6,"y":148642},{"s":"250","c":"p2","x":512.6,"y":189179},{"s":"250","c":"env","x":512.6,"y":189471},
{"s":"250","c":"bg","x":512.4,"y":147600},{"s":"250","c":"p1","x":512.4,"y":147881},{"s":"250","c":"p2","x":512.4,"y":186876},{"s":"250","c":"env","x":512.4,"y":187157},
{"s":"250","c":"bg","x":512.2,"y":146900},{"s":"250","c":"p1","x":512.2,"y":147162},{"s":"250","c":"p2","x":512.2,"y":181599},{"s":"250","c":"env","x":512.2,"y":181861},
{"s":"250","c":"bg","x":512,"y":146300},{"s":"250","c":"p1","x":512,"y":146554},{"s":"250","c":"p2","x":512,"y":175032},{"s":"250","c":"env","x":512,"y":175286},
{"s":"250","c":"bg","x":511.7,"y":145600},{"s":"250","c":"p1","x":511.7,"y":145842},{"s":"250","c":"p2","x":511.7,"y":165340},{"s":"250","c":"env","x":511.7,"y":165582},
{"s":"250","c":"bg","x":511.4,"y":145150},{"s":"250","c":"p1","x":511.4,"y":145382},{"s":"250","c":"p2","x":511.4,"y":158596},{"s":"250","c":"env","x":511.4,"y":158828},
{"s":"250","c":"bg","x":511.1,"y":144950},{"s":"250","c":"p1","x":511.1,"y":145170},{"s":"250","c":"p2","x":511.1,"y":154064},{"s":"250","c":"env","x":511.1,"y":154284},
{"s":"250","c":"bg","x":510.8,"y":144850},{"s":"250","c":"p1","x":510.8,"y":145061},{"s":"250","c":"p2","x":510.8,"y":151267},{"s":"250","c":"env","x":510.8,"y":151478},
{"s":"250","c":"bg","x":510.4,"y":144750},{"s":"250","c":"p1","x":510.4,"y":144953},{"s":"250","c":"p2","x":510.4,"y":149041},{"s":"250","c":"env","x":510.4,"y":149244},
{"s":"250","c":"bg","x":510,"y":144690},{"s":"250","c":"p1","x":510,"y":144884},{"s":"250","c":"p2","x":510,"y":147698},{"s":"250","c":"env","x":510,"y":147892},
{"s":"250","c":"bg","x":509.5,"y":144620},{"s":"250","c":"p1","x":509.5,"y":144806},{"s":"250","c":"p2","x":509.5,"y":146737},{"s":"250","c":"env","x":509.5,"y":146923},
{"s":"250","c":"bg","x":509,"y":144570},{"s":"250","c":"p1","x":509,"y":144744},{"s":"250","c":"p2","x":509,"y":146160},{"s":"250","c":"env","x":509,"y":146334},
{"s":"250","c":"bg","x":508.5,"y":144530},{"s":"250","c":"p1","x":508.5,"y":144696},{"s":"250","c":"p2","x":508.5,"y":145756},{"s":"250","c":"env","x":508.5,"y":145922},
{"s":"250","c":"bg","x":508,"y":144500},{"s":"250","c":"p1","x":508,"y":144657},{"s":"250","c":"p2","x":508,"y":145477},{"s":"250","c":"env","x":508,"y":145634},
{"s":"250","c":"bg","x":507.2,"y":144450},{"s":"250","c":"p1","x":507.2,"y":144597},{"s":"250","c":"p2","x":507.2,"y":145161},{"s":"250","c":"env","x":507.2,"y":145308},
{"s":"180","c":"bg","x":525,"y":113730},{"s":"180","c":"p1","x":525,"y":114307},{"s":"180","c":"env","x":525,"y":114449},{"s":"180","c":"p2","x":525,"y":113872},
{"s":"180","c":"bg","x":524.5,"y":113700},{"s":"180","c":"p1","x":524.5,"y":114409},{"s":"180","c":"p2","x":524.5,"y":113849},{"s":"180","c":"env","x":524.5,"y":114558},
{"s":"180","c":"bg","x":524,"y":113660},{"s":"180","c":"p1","x":524,"y":114579},{"s":"180","c":"p2","x":524,"y":113823},{"s":"180","c":"env","x":524,"y":114742},
{"s":"180","c":"bg","x":523.5,"y":113600},{"s":"180","c":"p1","x":523.5,"y":114848},{"s":"180","c":"p2","x":523.5,"y":113778},{"s":"180","c":"env","x":523.5,"y":115026},
{"s":"180","c":"bg","x":523,"y":113520},{"s":"180","c":"p1","x":523,"y":115301},{"s":"180","c":"p2","x":523,"y":113719},{"s":"180","c":"env","x":523,"y":115500},
{"s":"180","c":"bg","x":522.5,"y":113420},{"s":"180","c":"p1","x":522.5,"y":116123},{"s":"180","c":"p2","x":522.5,"y":113640},{"s":"180","c":"env","x":522.5,"y":116343},
{"s":"180","c":"bg","x":522,"y":113250},{"s":"180","c":"p1","x":522,"y":117750},{"s":"180","c":"p2","x":522,"y":113491},{"s":"180","c":"env","x":522,"y":117991},
{"s":"180","c":"bg","x":521.6,"y":113020},{"s":"180","c":"p1","x":521.6,"y":119873},{"s":"180","c":"p2","x":521.6,"y":113283},{"s":"180","c":"env","x":521.6,"y":120136},
{"s":"180","c":"bg","x":521.3,"y":112750},{"s":"180","c":"p1","x":521.3,"y":122115},{"s":"180","c":"p2","x":521.3,"y":113034},{"s":"180","c":"env","x":521.3,"y":122399},
{"s":"180","c":"bg","x":521,"y":112400},{"s":"180","c":"p1","x":521,"y":124754},{"s":"180","c":"p2","x":521,"y":112709},{"s":"180","c":"env","x":521,"y":125063},
{"s":"180","c":"bg","x":520.8,"y":112100},{"s":"180","c":"p1","x":520.8,"y":126172},{"s":"180","c":"p2","x":520.8,"y":112423},{"s":"180","c":"env","x":520.8,"y":126495},
{"s":"180","c":"bg","x":520.6,"y":111850},{"s":"180","c":"p1","x":520.6,"y":127241},{"s":"180","c":"p2","x":520.6,"y":112191},{"s":"180","c":"env","x":520.6,"y":127582},
{"s":"180","c":"bg","x":520.4,"y":111550},{"s":"180","c":"p1","x":520.4,"y":127450},{"s":"180","c":"p2","x":520.4,"y":111905},{"s":"180","c":"env","x":520.4,"y":127805},
{"s":"180","c":"bg","x":520.2,"y":111250},{"s":"180","c":"p1","x":520.2,"y":126721},{"s":"180","c":"p2","x":520.2,"y":111623},{"s":"180","c":"env","x":520.2,"y":127094},
{"s":"180","c":"bg","x":520,"y":110950},{"s":"180","c":"p1","x":520,"y":125387},{"s":"180","c":"p2","x":520,"y":111341},{"s":"180","c":"env","x":520,"y":125778},
{"s":"180","c":"bg","x":519.8,"y":110650},{"s":"180","c":"p1","x":519.8,"y":123688},{"s":"180","c":"p2","x":519.8,"y":111058},{"s":"180","c":"env","x":519.8,"y":124096},
{"s":"180","c":"bg","x":519.5,"y":110250},{"s":"180","c":"p1","x":519.5,"y":120712},{"s":"180","c":"p2","x":519.5,"y":110694},{"s":"180","c":"env","x":519.5,"y":121156},
{"s":"180","c":"bg","x":519.2,"y":109900},{"s":"180","c":"p1","x":519.2,"y":117850},{"s":"180","c":"p2","x":519.2,"y":110379},{"s":"180","c":"env","x":519.2,"y":118329},
{"s":"180","c":"bg","x":518.9,"y":109600},{"s":"180","c":"p1","x":518.9,"y":115690},{"s":"180","c":"p2","x":518.9,"y":110129},{"s":"180","c":"env","x":518.9,"y":116219},
{"s":"180","c":"bg","x":518.5,"y":109350},{"s":"180","c":"p1","x":518.5,"y":113595},{"s":"180","c":"p2","x":518.5,"y":109957},{"s":"180","c":"env","x":518.5,"y":114202},
{"s":"180","c":"bg","x":518,"y":109150},{"s":"180","c":"p1","x":518,"y":111853},{"s":"180","c":"p2","x":518,"y":109874},{"s":"180","c":"env","x":518,"y":112577},
{"s":"180","c":"bg","x":517.5,"y":109030},{"s":"180","c":"p1","x":517.5,"y":110906},{"s":"180","c":"p2","x":517.5,"y":109910},{"s":"180","c":"env","x":517.5,"y":111786},
{"s":"180","c":"bg","x":517,"y":108930},{"s":"180","c":"p1","x":517,"y":110309},{"s":"180","c":"p2","x":517,"y":110041},{"s":"180","c":"env","x":517,"y":111420},
{"s":"180","c":"bg","x":516.5,"y":108800},{"s":"180","c":"p1","x":516.5,"y":109834},{"s":"180","c":"p2","x":516.5,"y":110206},{"s":"180","c":"env","x":516.5,"y":111240},
{"s":"180","c":"bg","x":516,"y":108620},{"s":"180","c":"p1","x":516,"y":109437},{"s":"180","c":"p2","x":516,"y":110480},{"s":"180","c":"env","x":516,"y":111297},
{"s":"180","c":"bg","x":515.6,"y":108440},{"s":"180","c":"p1","x":515.6,"y":109108},{"s":"180","c":"p2","x":515.6,"y":110875},{"s":"180","c":"env","x":515.6,"y":111543},
{"s":"180","c":"bg","x":515.2,"y":108280},{"s":"180","c":"p1","x":515.2,"y":108868},{"s":"180","c":"p2","x":515.2,"y":111663},{"s":"180","c":"env","x":515.2,"y":112251},
{"s":"180","c":"bg","x":514.8,"y":108080},{"s":"180","c":"p1","x":514.8,"y":108589},{"s":"180","c":"p2","x":514.8,"y":112802},{"s":"180","c":"env","x":514.8,"y":113311},
{"s":"180","c":"bg","x":514.4,"y":107800},{"s":"180","c":"p1","x":514.4,"y":108229},{"s":"180","c":"p2","x":514.4,"y":115078},{"s":"180","c":"env","x":514.4,"y":115507},
{"s":"180","c":"bg","x":514,"y":107400},{"s":"180","c":"p1","x":514,"y":107788},{"s":"180","c":"p2","x":514,"y":119222},{"s":"180","c":"env","x":514,"y":119610},
{"s":"180","c":"bg","x":513.7,"y":106900},{"s":"180","c":"p1","x":513.7,"y":107256},{"s":"180","c":"p2","x":513.7,"y":123869},{"s":"180","c":"env","x":513.7,"y":124225},
{"s":"180","c":"bg","x":513.4,"y":106200},{"s":"180","c":"p1","x":513.4,"y":106524},{"s":"180","c":"p2","x":513.4,"y":130447},{"s":"180","c":"env","x":513.4,"y":130771},
{"s":"180","c":"bg","x":513.2,"y":105650},{"s":"180","c":"p1","x":513.2,"y":105952},{"s":"180","c":"p2","x":513.2,"y":134973},{"s":"180","c":"env","x":513.2,"y":135275},
{"s":"180","c":"bg","x":513,"y":105000},{"s":"180","c":"p1","x":513,"y":105286},{"s":"180","c":"p2","x":513,"y":138299},{"s":"180","c":"env","x":513,"y":138585},
{"s":"180","c":"bg","x":512.8,"y":104500},{"s":"180","c":"p1","x":512.8,"y":104773},{"s":"180","c":"p2","x":512.8,"y":139858},{"s":"180","c":"env","x":512.8,"y":140131},
{"s":"180","c":"bg","x":512.6,"y":103900},{"s":"180","c":"p1","x":512.6,"y":104162},{"s":"180","c":"p2","x":512.6,"y":138371},{"s":"180","c":"env","x":512.6,"y":138633},
{"s":"180","c":"bg","x":512.4,"y":103150},{"s":"180","c":"p1","x":512.4,"y":103404},{"s":"180","c":"p2","x":512.4,"y":134390},{"s":"180","c":"env","x":512.4,"y":134644},
{"s":"180","c":"bg","x":512.2,"y":102450},{"s":"180","c":"p1","x":512.2,"y":102696},{"s":"180","c":"p2","x":512.2,"y":129217},{"s":"180","c":"env","x":512.2,"y":129463},
{"s":"180","c":"bg","x":512,"y":101900},{"s":"180","c":"p1","x":512,"y":102139},{"s":"180","c":"p2","x":512,"y":123484},{"s":"180","c":"env","x":512,"y":123723},
{"s":"180","c":"bg","x":511.7,"y":101400},{"s":"180","c":"p1","x":511.7,"y":101627},{"s":"180","c":"p2","x":511.7,"y":116559},{"s":"180","c":"env","x":511.7,"y":116786},
{"s":"180","c":"bg","x":511.4,"y":101040},{"s":"180","c":"p1","x":511.4,"y":101258},{"s":"180","c":"p2","x":511.4,"y":111619},{"s":"180","c":"env","x":511.4,"y":111837},
{"s":"180","c":"bg","x":511.1,"y":100850},{"s":"180","c":"p1","x":511.1,"y":101057},{"s":"180","c":"p2","x":511.1,"y":108270},{"s":"180","c":"env","x":511.1,"y":108477},
{"s":"180","c":"bg","x":510.8,"y":100700},{"s":"180","c":"p1","x":510.8,"y":100899},{"s":"180","c":"p2","x":510.8,"y":106096},{"s":"180","c":"env","x":510.8,"y":106295},
{"s":"180","c":"bg","x":510.4,"y":100550},{"s":"180","c":"p1","x":510.4,"y":100741},{"s":"180","c":"p2","x":510.4,"y":104278},{"s":"180","c":"env","x":510.4,"y":104469},
{"s":"180","c":"bg","x":510,"y":100420},{"s":"180","c":"p1","x":510,"y":100603},{"s":"180","c":"p2","x":510,"y":103083},{"s":"180","c":"env","x":510,"y":103266},
{"s":"180","c":"bg","x":509.5,"y":100300},{"s":"180","c":"p1","x":509.5,"y":100475},{"s":"180","c":"p2","x":509.5,"y":102228},{"s":"180","c":"env","x":509.5,"y":102403},
{"s":"180","c":"bg","x":509,"y":100200},{"s":"180","c":"p1","x":509,"y":100367},{"s":"180","c":"p2","x":509,"y":101645},{"s":"180","c":"env","x":509,"y":101812},
{"s":"180","c":"bg","x":508.5,"y":100120},{"s":"180","c":"p1","x":508.5,"y":100279},{"s":"180","c":"p2","x":508.5,"y":101277},{"s":"180","c":"env","x":508.5,"y":101436},
{"s":"180","c":"bg","x":508,"y":100060},{"s":"180","c":"p1","x":508,"y":100211},{"s":"180","c":"p2","x":508,"y":100969},{"s":"180","c":"env","x":508,"y":101120},
{"s":"80","c":"bg80","x":525,"y":88240},{"s":"80","c":"p1_80","x":525,"y":88345},{"s":"80","c":"env","x":525,"y":88455},{"s":"80","c":"p2_80","x":525,"y":88350},
{"s":"80","c":"bg80","x":524.5,"y":88240},{"s":"80","c":"p1_80","x":524.5,"y":88376},{"s":"80","c":"p2_80","x":524.5,"y":88360},{"s":"80","c":"env","x":524.5,"y":88496},
{"s":"80","c":"bg80","x":524,"y":88240},{"s":"80","c":"p1_80","x":524,"y":88418},{"s":"80","c":"p2_80","x":524,"y":88370},{"s":"80","c":"env","x":524,"y":88548},
{"s":"80","c":"bg80","x":523.5,"y":88240},{"s":"80","c":"p1_80","x":523.5,"y":88491},{"s":"80","c":"p2_80","x":523.5,"y":88380},{"s":"80","c":"env","x":523.5,"y":88631},
{"s":"80","c":"bg80","x":523,"y":88220},{"s":"80","c":"p1_80","x":523,"y":88597},{"s":"80","c":"p2_80","x":523,"y":88370},{"s":"80","c":"env","x":523,"y":88747},
{"s":"80","c":"bg80","x":522.5,"y":88160},{"s":"80","c":"p1_80","x":522.5,"y":88798},{"s":"80","c":"p2_80","x":522.5,"y":88325},{"s":"80","c":"env","x":522.5,"y":88963},
{"s":"80","c":"bg80","x":522,"y":88040},{"s":"80","c":"p1_80","x":522,"y":89290},{"s":"80","c":"p2_80","x":522,"y":88220},{"s":"80","c":"env","x":522,"y":89470},
{"s":"80","c":"bg80","x":521.6,"y":87880},{"s":"80","c":"p1_80","x":521.6,"y":90181},{"s":"80","c":"p2_80","x":521.6,"y":88075},{"s":"80","c":"env","x":521.6,"y":90376},
{"s":"80","c":"bg80","x":521.3,"y":87700},{"s":"80","c":"p1_80","x":521.3,"y":91283},{"s":"80","c":"p2_80","x":521.3,"y":87910},{"s":"80","c":"env","x":521.3,"y":91493},
{"s":"80","c":"bg80","x":521,"y":87480},{"s":"80","c":"p1_80","x":521,"y":92333},{"s":"80","c":"p2_80","x":521,"y":87710},{"s":"80","c":"env","x":521,"y":92563},
{"s":"80","c":"bg80","x":520.8,"y":87280},{"s":"80","c":"p1_80","x":520.8,"y":92510},{"s":"80","c":"p2_80","x":520.8,"y":87530},{"s":"80","c":"env","x":520.8,"y":92760},
{"s":"80","c":"bg80","x":520.6,"y":87050},{"s":"80","c":"p1_80","x":520.6,"y":91903},{"s":"80","c":"p2_80","x":520.6,"y":87320},{"s":"80","c":"env","x":520.6,"y":92173},
{"s":"80","c":"bg80","x":520.4,"y":86840},{"s":"80","c":"p1_80","x":520.4,"y":90815},{"s":"80","c":"p2_80","x":520.4,"y":87130},{"s":"80","c":"env","x":520.4,"y":91105},
{"s":"80","c":"bg80","x":520.2,"y":86620},{"s":"80","c":"p1_80","x":520.2,"y":89523},{"s":"80","c":"p2_80","x":520.2,"y":86960},{"s":"80","c":"env","x":520.2,"y":89863},
{"s":"80","c":"bg80","x":520,"y":86430},{"s":"80","c":"p1_80","x":520,"y":88512},{"s":"80","c":"p2_80","x":520,"y":86830},{"s":"80","c":"env","x":520,"y":88912},
{"s":"80","c":"bg80","x":519.8,"y":86270},{"s":"80","c":"p1_80","x":519.8,"y":87755},{"s":"80","c":"p2_80","x":519.8,"y":86770},{"s":"80","c":"env","x":519.8,"y":88255},
{"s":"80","c":"bg80","x":519.5,"y":86060},{"s":"80","c":"p1_80","x":519.5,"y":86965},{"s":"80","c":"p2_80","x":519.5,"y":86710},{"s":"80","c":"env","x":519.5,"y":87615},
{"s":"80","c":"bg80","x":519.2,"y":85880},{"s":"80","c":"p1_80","x":519.2,"y":86481},{"s":"80","c":"p2_80","x":519.2,"y":86730},{"s":"80","c":"env","x":519.2,"y":87331},
{"s":"80","c":"bg80","x":518.9,"y":85760},{"s":"80","c":"p1_80","x":518.9,"y":86184},{"s":"80","c":"p2_80","x":518.9,"y":86810},{"s":"80","c":"env","x":518.9,"y":87234},
{"s":"80","c":"bg80","x":518.5,"y":85640},{"s":"80","c":"p1_80","x":518.5,"y":85922},{"s":"80","c":"p2_80","x":518.5,"y":86990},{"s":"80","c":"env","x":518.5,"y":87272},
{"s":"80","c":"bg80","x":518,"y":85480},{"s":"80","c":"p1_80","x":518,"y":85679},{"s":"80","c":"p2_80","x":518,"y":87330},{"s":"80","c":"env","x":518,"y":87529},
{"s":"80","c":"bg80","x":517.5,"y":85250},{"s":"80","c":"p1_80","x":517.5,"y":85391},{"s":"80","c":"p2_80","x":517.5,"y":88100},{"s":"80","c":"env","x":517.5,"y":88241},
{"s":"80","c":"bg80","x":517,"y":84960},{"s":"80","c":"p1_80","x":517,"y":85065},{"s":"80","c":"p2_80","x":517,"y":88960},{"s":"80","c":"env","x":517,"y":89065},
{"s":"80","c":"bg80","x":516.5,"y":84500},{"s":"80","c":"p1_80","x":516.5,"y":84584},{"s":"80","c":"p2_80","x":516.5,"y":90000},{"s":"80","c":"env","x":516.5,"y":90084},
{"s":"80","c":"bg80","x":516,"y":83750},{"s":"80","c":"p1_80","x":516,"y":83818},{"s":"80","c":"p2_80","x":516,"y":91250},{"s":"80","c":"env","x":516,"y":91318},
{"s":"80","c":"bg80","x":515.8,"y":83250},{"s":"80","c":"p1_80","x":515.8,"y":83313},{"s":"80","c":"p2_80","x":515.8,"y":91950},{"s":"80","c":"env","x":515.8,"y":92013},
{"s":"80","c":"bg80","x":515.6,"y":82700},{"s":"80","c":"p1_80","x":515.6,"y":82758},{"s":"80","c":"p2_80","x":515.6,"y":92200},{"s":"80","c":"env","x":515.6,"y":92258},
{"s":"80","c":"bg80","x":515.4,"y":82280},{"s":"80","c":"p1_80","x":515.4,"y":82335},{"s":"80","c":"p2_80","x":515.4,"y":91780},{"s":"80","c":"env","x":515.4,"y":91835},
{"s":"80","c":"bg80","x":515.2,"y":81880},{"s":"80","c":"p1_80","x":515.2,"y":81931},{"s":"80","c":"p2_80","x":515.2,"y":91080},{"s":"80","c":"env","x":515.2,"y":91131},
{"s":"80","c":"bg80","x":515,"y":81490},{"s":"80","c":"p1_80","x":515,"y":81538},{"s":"80","c":"p2_80","x":515,"y":90190},{"s":"80","c":"env","x":515,"y":90238},
{"s":"80","c":"bg80","x":514.8,"y":81100},{"s":"80","c":"p1_80","x":514.8,"y":81145},{"s":"80","c":"p2_80","x":514.8,"y":89100},{"s":"80","c":"env","x":514.8,"y":89145},
{"s":"80","c":"bg80","x":514.5,"y":80420},{"s":"80","c":"p1_80","x":514.5,"y":80460},{"s":"80","c":"p2_80","x":514.5,"y":87220},{"s":"80","c":"env","x":514.5,"y":87260},
{"s":"80","c":"bg80","x":514.2,"y":80000},{"s":"80","c":"p1_80","x":514.2,"y":80037},{"s":"80","c":"p2_80","x":514.2,"y":85000},{"s":"80","c":"env","x":514.2,"y":85037},
{"s":"80","c":"bg80","x":514,"y":79800},{"s":"80","c":"p1_80","x":514,"y":79835},{"s":"80","c":"p2_80","x":514,"y":83900},{"s":"80","c":"env","x":514,"y":83935},
{"s":"80","c":"bg80","x":513.7,"y":79550},{"s":"80","c":"p1_80","x":513.7,"y":79581},{"s":"80","c":"p2_80","x":513.7,"y":82550},{"s":"80","c":"env","x":513.7,"y":82581},
{"s":"80","c":"bg80","x":513.4,"y":79270},{"s":"80","c":"p1_80","x":513.4,"y":79299},{"s":"80","c":"p2_80","x":513.4,"y":81470},{"s":"80","c":"env","x":513.4,"y":81499},
{"s":"80","c":"bg80","x":513,"y":78950},{"s":"80","c":"p1_80","x":513,"y":78976},{"s":"80","c":"p2_80","x":513,"y":80600},{"s":"80","c":"env","x":513,"y":80626},
{"s":"80","c":"bg80","x":512.6,"y":78450},{"s":"80","c":"p1_80","x":512.6,"y":78474},{"s":"80","c":"p2_80","x":512.6,"y":79700},{"s":"80","c":"env","x":512.6,"y":79724},
{"s":"80","c":"bg80","x":512.2,"y":78200},{"s":"80","c":"p1_80","x":512.2,"y":78222},{"s":"80","c":"p2_80","x":512.2,"y":79200},{"s":"80","c":"env","x":512.2,"y":79222},
{"s":"80","c":"bg80","x":511.8,"y":78060},{"s":"80","c":"p1_80","x":511.8,"y":78081},{"s":"80","c":"p2_80","x":511.8,"y":78860},{"s":"80","c":"env","x":511.8,"y":78881},
{"s":"80","c":"bg80","x":511.4,"y":78060},{"s":"80","c":"p1_80","x":511.4,"y":78079},{"s":"80","c":"p2_80","x":511.4,"y":78760},{"s":"80","c":"env","x":511.4,"y":78779},
{"s":"80","c":"bg80","x":511,"y":78050},{"s":"80","c":"p1_80","x":511,"y":78068},{"s":"80","c":"p2_80","x":511,"y":78650},{"s":"80","c":"env","x":511,"y":78668}
],
"boxes": [{"x":510.04,"x2":507.37,"y":263890,"y2":244840},{"x":515.364,"x2":512.728,"y":110392,"y2":92043}],
"vlines": [{"x":520.33,"y":239930,"y2":57470},{"x":512.62,"y":239930,"y2":57470},{"x":515.536,"y":106630,"y2":59300}],
"toplines": [{"x":520.33,"y":239930,"y2":230400},{"x":512.62,"y":239930,"y2":230400}],
"shaft": [{"x":520.33,"x2":512.62,"y":238570}],
"heads": [{"x":520.33,"y":238570,"d":"left"},{"x":512.62,"y":238570,"d":"right"}],
"samples": [{"x":508.98,"y":217516,"t":"300℃ 0.5h"},{"x":508.905,"y":168088,"t":"250℃ 0.5h"},{"x":508.97,"y":123528,"t":"180℃ 0.5h"},{"x":509.0,"y":84590,"t":"80℃ 8.0h"}],
"numbers": [{"x":516.747,"y":244410,"t":"7.6"},{"x":512.31,"y":249460,"t":"512.8"}],
"v2p": [{"x":508.87,"y":249740,"t":"V 2p"}],
"big": [{"x":514.852,"y":96389,"t":"V"},{"x":513.906,"y":96389,"t":"O"}],
"sub": [{"x":514.387,"y":93938,"t":"2"},{"x":513.356,"y":93938,"t":"3"}]
},
"layer": [
{
"data": {"name": "raw"},
"mark": {"type": "line", "color": "#333333", "strokeWidth": 1.9},
"encoding": {
"x": {"field": "x", "type": "quantitative",
 "scale": {"domain": [507.2, 525], "reverse": true, "nice": false, "zero": false},
 "axis": {"title": "B.E.(eV)", "values": [508,509,510,511,512,513,514,515,516,517,518,519,520,521,522,523,524,525],
  "format": "d", "labelExpr": "datum.value % 2 === 0 ? datum.label : ''",
  "tickSize": {"condition": {"test": "datum.value % 2 === 0", "value": 22}, "value": 11},
  "tickWidth": 4, "tickColor": "#3a3a3a", "domainColor": "#3a3a3a", "domainWidth": 4.5,
  "labelFont": "Liberation Sans", "labelFontSize": 45, "labelColor": "#333333", "labelPadding": 16,
  "titleFont": "Liberation Sans", "titleFontSize": 56, "titleFontWeight": "normal", "titleColor": "#333333", "titlePadding": 34,
  "grid": false, "labelOverlap": false, "labelFlush": false}},
"y": {"field": "y", "type": "quantitative",
 "scale": {"domain": [60000, 250000], "nice": false, "zero": false},
 "axis": {"title": null, "values": [75000,100000,125000,150000,175000,200000,225000,250000],
  "format": "d", "labelExpr": "datum.value % 50000 === 0 ? datum.label : ''",
  "tickSize": {"condition": {"test": "datum.value % 50000 === 0", "value": 23}, "value": 12},
  "tickWidth": 4, "tickColor": "#3a3a3a", "domainColor": "#3a3a3a", "domainWidth": 4.5,
  "labelFont": "Liberation Sans", "labelFontSize": 45, "labelColor": "#333333", "labelPadding": 16,
  "grid": false, "labelOverlap": false, "labelFlush": false}},
"detail": {"field": "s", "type": "nominal"}
}
},
{
"data": {"name": "fit"},
"mark": {"type": "line", "strokeWidth": 2.5},
"encoding": {
"x": {"field": "x", "type": "quantitative"},
"y": {"field": "y", "type": "quantitative"},
"color": {"field": "c", "type": "nominal", "legend": null,
 "scale": {"domain": ["bg","p1","env","p2","bg80","p1_80","p2_80"], "range": ["#00ee00","#00eeee","#ff0000","#0000ee","#0000ff","#007a00","#ff00ff"]}},
"detail": {"field": "s", "type": "nominal"}
}
},
{
"data": {"name": "boxes"},
"mark": {"type": "rect", "fill": "white", "stroke": "#33339a", "strokeWidth": 4},
"encoding": {
"x": {"field": "x", "type": "quantitative"}, "x2": {"field": "x2"},
"y": {"field": "y", "type": "quantitative"}, "y2": {"field": "y2"}
}
},
{
"data": {"name": "vlines"},
"mark": {"type": "rule", "color": "#3a3a3a", "strokeWidth": 6},
"encoding": {
"x": {"field": "x", "type": "quantitative"},
"y": {"field": "y", "type": "quantitative"}, "y2": {"field": "y2"}
}
},
{
"data": {"name": "toplines"},
"mark": {"type": "rule", "color": "#111111", "strokeWidth": 7},
"encoding": {
"x": {"field": "x", "type": "quantitative"},
"y": {"field": "y", "type": "quantitative"}, "y2": {"field": "y2"}
}
},
{
"data": {"name": "shaft"},
"mark": {"type": "rule", "color": "#3a3a3a", "strokeWidth": 7},
"encoding": {
"x": {"field": "x", "type": "quantitative"}, "x2": {"field": "x2"},
"y": {"field": "y", "type": "quantitative"}
}
},
{
"data": {"name": "heads"},
"mark": {"type": "point", "filled": false, "stroke": "#3a3a3a", "strokeWidth": 7, "size": 1000, "opacity": 1, "strokeJoin": "miter", "strokeCap": "round"},
"encoding": {
"x": {"field": "x", "type": "quantitative"},
"y": {"field": "y", "type": "quantitative"},
"shape": {"field": "d", "type": "nominal", "legend": null,
 "scale": {"domain": ["left","right"], "range": ["M 1.9 -1 L 0 0 L 1.9 1", "M -1.9 -1 L 0 0 L -1.9 1"]}}
}
},
{
"data": {"name": "samples"},
"mark": {"type": "text", "font": "Liberation Serif", "fontWeight": "bold", "fontSize": 46, "color": "#333333", "align": "center", "baseline": "alphabetic"},
"encoding": {
"x": {"field": "x", "type": "quantitative"},
"y": {"field": "y", "type": "quantitative"},
"text": {"field": "t"}
}
},
{
"data": {"name": "numbers"},
"mark": {"type": "text", "font": "Liberation Serif", "fontWeight": "bold", "fontSize": 75, "color": "#333333", "align": "center", "baseline": "alphabetic"},
"encoding": {
"x": {"field": "x", "type": "quantitative"},
"y": {"field": "y", "type": "quantitative"},
"text": {"field": "t"}
}
},
{
"data": {"name": "v2p"},
"mark": {"type": "text", "font": "Liberation Sans", "fontWeight": "bold", "fontSize": 78, "color": "#333333", "align": "center", "baseline": "alphabetic"},
"encoding": {
"x": {"field": "x", "type": "quantitative"},
"y": {"field": "y", "type": "quantitative"},
"text": {"field": "t"}
}
},
{
"data": {"name": "big"},
"mark": {"type": "text", "font": "Liberation Sans", "fontWeight": "bold", "fontSize": 76, "color": "#333333", "align": "center", "baseline": "alphabetic"},
"encoding": {
"x": {"field": "x", "type": "quantitative"},
"y": {"field": "y", "type": "quantitative"},
"text": {"field": "t"}
}
},
{
"data": {"name": "sub"},
"mark": {"type": "text", "font": "Liberation Sans", "fontWeight": "bold", "fontSize": 46, "color": "#333333", "align": "center", "baseline": "alphabetic"},
"encoding": {
"x": {"field": "x", "type": "quantitative"},
"y": {"field": "y", "type": "quantitative"},
"text": {"field": "t"}
}
}
]
}
